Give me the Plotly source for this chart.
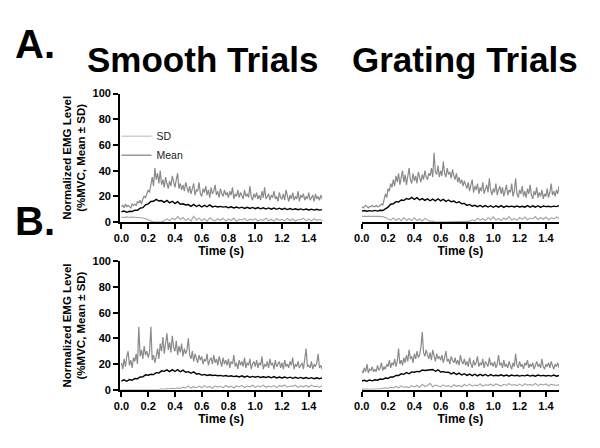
import plotly.graph_objects as go

# ---------------- data ----------------
t_fine = [round(i * 0.01, 2) for i in range(151)]
t_coarse = [round(i * 0.02, 2) for i in range(76)]
x_ticks = [0.0, 0.2, 0.4, 0.6, 0.8, 1.0, 1.2, 1.4]
x_tick_labels = ["0.0", "0.2", "0.4", "0.6", "0.8", "1.0", "1.2", "1.4"]
y_ticks = [0, 20, 40, 60, 80, 100]
y_tick_labels = ["0", "20", "40", "60", "80", "100"]

# A. Smooth trials
smoothA_upper = [
    12, 13, 11, 14, 12, 13, 12, 11, 14, 13,
    14, 13, 16, 15, 17, 14, 18, 20, 19, 22,
    25, 23, 30, 35, 28, 42, 33, 38, 30, 40,
    29, 33, 27, 35, 30, 26, 32, 28, 36, 30,
    27, 33, 38, 26, 30, 25, 29, 24, 31, 27,
    23, 28, 22, 26, 30, 21, 25, 24, 31, 22,
    20, 26, 23, 28, 21, 25, 19, 27, 22, 24,
    29, 21, 24, 19, 26, 22, 20, 25, 21, 23,
    19, 24, 21, 27, 18, 22, 20, 25, 19, 23,
    21, 18, 25, 20, 22, 19, 28, 20, 17, 22,
    19, 23, 18, 21, 17, 24, 19, 27, 18, 20,
    22, 17, 21, 19, 24, 18, 20, 16, 23, 19,
    18, 22, 17, 25, 19, 16, 21, 18, 23, 17,
    20, 18, 24, 16, 21, 19, 22, 17, 20, 18,
    23, 17, 19, 21, 16, 22, 18, 20, 17, 21,
    18]
smoothA_mean = [
    8, 8.6, 7.6, 8.4, 8.2, 9.3, 9.1, 10.8, 11.2, 13.4,
    14.2, 16, 16.2, 17.6, 16.4, 16.7, 15.3, 16.8, 15, 16.2,
    14.4, 15.8, 13.9, 14.2, 13.3, 13.6, 12.2, 13.7, 12.1, 13.2,
    11.7, 13, 11.9, 13.3, 11.8, 12.4, 11.7, 12.2, 11.6, 12,
    11.2, 11.9, 11, 11.7, 10.9, 11.6, 10.6, 11.5, 10.6, 11.4,
    10.4, 11.3, 10.3, 11.1, 10.1, 11, 10, 10.9, 9.9, 10.8,
    9.8, 10.7, 9.7, 10.5, 9.7, 10.3, 9.6, 10.2, 9.5, 10.1,
    9.4, 10, 9.3, 9.9, 9.3, 9.7]
smoothA_lower = [
    3.8, 3.6, 4, 3.5, 3.9, 3.7, 3.4, 3.6, 3.2, 2.5,
    1.5, 0.6, 0, 0, 0.2, 0, 1.2, 2.5, 1, 3,
    1.8, 4.2, 2, 3.5, 1.2, 2.8, 0.8, 4.5, 1.5, 3.2,
    1, 2.8, 0.6, 3.4, 1.8, 0.9, 2.6, 1.4, 3, 0.8,
    2.4, 1.2, 3.1, 0.7, 2.2, 1.6, 2.9, 0.9, 2.3, 1.5,
    2.7, 0.8, 2, 1.3, 3, 1, 2.2, 0.7, 2.6, 1.4,
    2.1, 0.9, 2.8, 1.2, 2.4, 0.8, 2, 1.6, 2.9, 1.1,
    2.3, 0.9, 2.6, 1.3, 2, 1.2]

# A. Grating trials
gratingA_upper = [
    12, 11, 12, 13, 12, 11, 12, 12, 13, 12,
    12, 13, 12, 12, 13, 14, 13, 18, 22, 19,
    26, 24, 30, 27, 33, 28, 36, 31, 38, 29,
    34, 40, 31, 37, 29, 35, 42, 33, 30, 38,
    32, 36, 30, 39, 34, 31, 37, 33, 40, 35,
    33, 38, 36, 42, 35, 54, 39, 37, 44, 35,
    40, 36, 47, 38, 35, 42, 37, 39, 34, 41,
    36, 33, 38, 31, 35, 30, 33, 28, 32, 29,
    26, 31, 24, 29, 33, 23, 28, 25, 30, 22,
    27, 24, 31, 22, 26, 29, 23, 34, 25, 21,
    26, 23, 30, 21, 25, 28, 22, 27, 20, 24,
    29, 21, 25, 23, 30, 20, 24, 34, 22, 19,
    25, 22, 28, 20, 24, 19, 26, 22, 29, 21,
    18, 24, 21, 27, 19, 23, 20, 25, 18, 22,
    20, 26, 19, 23, 30, 21, 24, 20, 25, 22,
    28]
gratingA_mean = [
    8.5, 9, 8.4, 8.9, 8.5, 9.1, 8.5, 9.2, 9, 10.2,
    11.6, 13.9, 14.2, 15.9, 15.6, 17.2, 16.8, 18.3, 17.7, 19.2,
    17.6, 19, 17.2, 18.3, 16.9, 18, 16.6, 17.9, 16.5, 18.1,
    16.5, 17.6, 16.1, 17.2, 15.8, 16.3, 15, 15.8, 14.2, 14.5,
    13, 13.7, 12.4, 13, 12, 12.9, 11.8, 12.8, 11.7, 12.7,
    11.5, 12.6, 11.6, 12.8, 11.4, 12.5, 11.9, 12.4, 11.7, 12.5,
    11.8, 12.3, 11.6, 12.8, 11.5, 12.6, 11.6, 12.7, 11.4, 12.5,
    12, 12.3, 11.8, 12.4, 12, 12.8]
gratingA_lower = [
    4.4, 4.5, 4.4, 4.3, 4.4, 4.5, 4.4, 4.3, 4.2, 3.5,
    2.5, 1.5, 3.2, 1.2, 2.8, 1, 3.5, 1.4, 2.6, 1.1,
    3.3, 1.2, 2.4, 0.8, 2.9, 1.5, 0.5, 0.8, 0, 0,
    0, 0, 0, 0, 0, 0, 0, 0, 0, 0,
    0, 0.5, 1.8, 1, 3, 1.5, 2.6, 1.2, 3.4, 1.8,
    4, 1.5, 2.8, 1.1, 3.2, 2, 4.2, 1.6, 2.9, 1.3,
    3.5, 2.1, 4, 1.8, 3.1, 2.4, 4.3, 1.9, 3.6, 2.2,
    3.9, 1.8, 3.3, 2.5, 4, 2.7]

# B. Smooth trials
smoothB_upper = [
    21, 16, 24, 18, 26, 30, 19, 23, 17, 25,
    22, 28, 20, 49, 26, 31, 24, 34, 27, 30,
    25, 29, 49, 23, 27, 21, 26, 32, 24, 36,
    30, 41, 28, 35, 44, 31, 37, 29, 42, 33,
    30, 38, 27, 34, 29, 36, 26, 32, 28, 31,
    40, 27, 24, 30, 22, 28, 25, 21, 27, 23,
    26, 20, 24, 22, 28, 19, 23, 25, 20, 27,
    21, 24, 19, 26, 22, 18, 25, 20, 23, 19,
    24, 17, 22, 20, 27, 18, 21, 16, 23, 19,
    22, 18, 25, 17, 21, 19, 24, 16, 20, 22,
    18, 23, 17, 21, 19, 26, 16, 20, 18, 22,
    17, 24, 19, 21, 16, 23, 18, 20, 22, 17,
    21, 16, 23, 18, 20, 17, 22, 19, 25, 16,
    20, 18, 22, 17, 19, 21, 16, 24, 32, 18,
    19, 17, 22, 16, 20, 18, 21, 28, 17, 19,
    16]
smoothB_mean = [
    6.8, 7.7, 6.6, 7.9, 7.4, 8.8, 8.6, 9.9, 10.1, 11.6,
    11.3, 12, 11.8, 13.3, 13, 14.7, 14.3, 15.5, 14.1, 15.7,
    14.2, 15.6, 14, 15.3, 13.6, 14.1, 12.8, 13.9, 12.2, 12.5,
    11.4, 11.9, 11.1, 11.7, 11.1, 11.4, 10.9, 11.2, 10.6, 11.1,
    10.4, 10.9, 10.2, 10.7, 10, 10.8, 9.8, 10.6, 9.7, 10.4,
    9.7, 10.4, 9.6, 10.1, 9.5, 10.3, 9.3, 10.2, 9.2, 9.9,
    9.2, 9.9, 9.1, 9.8, 8.9, 9.7, 8.9, 9.6, 8.8, 9.5,
    8.7, 9.4, 8.6, 9.3, 8.6, 9.2]
smoothB_lower = [
    0, 0, 0, 0, 0, 0, 0, 0, 0, 0,
    0, 0.3, 0, 0.5, 0.2, 0.8, 0.4, 1, 0.6, 1.2,
    0.8, 1.5, 1, 2, 1.4, 3, 1.2, 2.4, 1.6, 2.8,
    1.5, 3.2, 1.8, 2.6, 1.2, 3, 2, 2.7, 1.6, 3.3,
    1.9, 2.8, 1.4, 3.1, 2.2, 3.4, 1.7, 2.9, 2.3, 3.5,
    1.8, 3, 2.4, 3.6, 1.9, 2.8, 2.2, 3.2, 1.7, 3.4,
    2.5, 3.7, 2, 2.9, 2.6, 3.5, 1.8, 3, 2.3, 3.3,
    2.1, 3.6, 2.4, 2.9, 2, 3.1]

# B. Grating trials
gratingB_upper = [
    15, 13, 17, 14, 20, 13, 16, 15, 18, 14,
    16, 14, 19, 15, 17, 21, 15, 18, 16, 20,
    18, 23, 17, 21, 19, 24, 18, 22, 32, 20,
    23, 19, 25, 21, 27, 22, 31, 24, 26, 21,
    28, 24, 30, 25, 27, 33, 45, 29, 26, 31,
    27, 24, 29, 23, 31, 25, 22, 28, 24, 26,
    23, 27, 21, 25, 30, 22, 24, 20, 26, 23,
    21, 25, 20, 23, 19, 27, 22, 20, 24, 19,
    22, 18, 25, 20, 17, 23, 19, 21, 26, 18,
    21, 19, 24, 17, 22, 20, 18, 25, 19, 21,
    18, 22, 17, 20, 27, 19, 21, 17, 23, 18,
    20, 17, 22, 19, 16, 21, 18, 28, 19, 17,
    22, 18, 20, 16, 21, 19, 23, 17, 20, 18,
    21, 16, 19, 22, 18, 20, 17, 24, 18, 16,
    20, 18, 21, 17, 22, 19, 16, 20, 18, 21,
    17]
gratingB_mean = [
    6.8, 7.4, 6.7, 7.6, 6.9, 7.7, 7.4, 8.3, 8.1, 9.1,
    8.8, 10, 9.9, 11.2, 11.1, 12.4, 12, 13.4, 12.4, 13.9,
    13.6, 14.3, 14, 15.4, 15, 15.2, 15.2, 15.8, 14.4, 15.5,
    13.8, 14.1, 13.5, 13.6, 12.3, 13.3, 11.9, 12.9, 11.5, 12.5,
    11.2, 12.2, 11, 12.1, 10.8, 12, 10.9, 11.9, 10.7, 11.8,
    10.8, 11.3, 10.9, 11.6, 10.7, 11.4, 10.6, 11.5, 10.8, 11.3,
    10.6, 11.2, 10.8, 11.4, 10.6, 11.3, 10.5, 11.4, 10.8, 11.2,
    10.7, 11.2, 10.6, 11.4, 10.5, 11.1]
gratingB_lower = [
    0.5, 0.4, 0.6, 0.5, 0.4, 0.6, 0.5, 0.8, 1.2, 1.5,
    1, 2, 1.4, 2.6, 1.5, 3, 1.8, 2.4, 1.6, 3.2,
    2, 3.5, 1.8, 4.2, 2.5, 3.3, 5, 2.2, 3.6, 2.8,
    2.4, 3.8, 2.6, 3.3, 2, 3.9, 2.7, 3.4, 2.3, 4.1,
    3, 4.4, 2.8, 3.7, 3.2, 4.6, 2.9, 3.9, 3.4, 4.3,
    3.1, 4.5, 3.6, 2.9, 4.2, 3.3, 4.8, 3.5, 4, 3.2,
    4.4, 3, 4.7, 3.6, 4.1, 3.4, 4.9, 3.2, 4.3, 3.7,
    4.5, 3.1, 4.2, 3.8, 3.3, 4]

panels = [
    (smoothA_upper, smoothA_mean, smoothA_lower),
    (gratingA_upper, gratingA_mean, gratingA_lower),
    (smoothB_upper, smoothB_mean, smoothB_lower),
    (gratingB_upper, gratingB_mean, gratingB_lower),
]

# ---------------- style ----------------
FONT = "Arial, 'Liberation Sans', sans-serif"
W, H = 600, 448
UPPER_COLOR = "#8a8a8a"
LOWER_COLOR = "#a3a3a3"
MEAN_COLOR = "#000000"

def px_x(p):
    return p / W

def px_y(p):
    return 1 - p / H

# panel domains (pixels -> paper)
x_dom_left = [px_x(113.6), px_x(318.4)]
x_dom_right = [px_x(358.5), px_x(558.5)]
y_dom_top = [px_y(222.0), px_y(90.0)]
y_dom_bot = [px_y(394.3), px_y(262.3)]
domains = [
    (x_dom_left, y_dom_top, True),
    (x_dom_right, y_dom_top, False),
    (x_dom_left, y_dom_bot, True),
    (x_dom_right, y_dom_bot, False),
]

fig = go.Figure()

for i, (up, mn, lo) in enumerate(panels):
    sfx = "" if i == 0 else str(i + 1)
    xa, ya = "x" + sfx, "y" + sfx
    fig.add_trace(go.Scatter(x=t_fine, y=up, mode="lines", xaxis=xa, yaxis=ya,
                             line=dict(color=UPPER_COLOR, width=1.2), showlegend=False,
                             hoverinfo="skip"))
    fig.add_trace(go.Scatter(x=t_coarse, y=lo, mode="lines", xaxis=xa, yaxis=ya,
                             line=dict(color=LOWER_COLOR, width=1.1), showlegend=False,
                             hoverinfo="skip"))
    fig.add_trace(go.Scatter(x=t_coarse, y=mn, mode="lines", xaxis=xa, yaxis=ya,
                             line=dict(color=MEAN_COLOR, width=1.4), showlegend=False,
                             hoverinfo="skip"))

# legend entries (as in the original figure)
fig.add_trace(go.Scatter(x=[None], y=[None], mode="lines", name="SD",
                         line=dict(color="#cfcfcf", width=1.5)))
fig.add_trace(go.Scatter(x=[None], y=[None], mode="lines", name="Mean",
                         line=dict(color="#9a9a9a", width=1.5)))

layout = dict(
    width=W, height=H,
    margin=dict(l=0, r=0, t=0, b=0),
    paper_bgcolor="white", plot_bgcolor="white",
    font=dict(family=FONT, color="black"),
    showlegend=True,
    legend=dict(x=px_x(110), y=px_y(119), xanchor="left", yanchor="top",
                bgcolor="rgba(0,0,0,0)", font=dict(size=10.5, color="#222222"),
                tracegroupgap=0, itemwidth=30),
)

for i, (xd, yd, left) in enumerate(domains):
    sfx = "" if i == 0 else str(i + 1)
    layout["xaxis" + sfx] = dict(
        domain=xd, anchor="y" + sfx, range=[-0.01 if left else 0.0, 1.5],
        tickmode="array", tickvals=x_ticks, ticktext=x_tick_labels,
        ticks="outside", ticklen=5, tickwidth=2, tickcolor="black",
        showline=True, linecolor="black", linewidth=2, showgrid=False, zeroline=False,
        tickfont=dict(size=11, family=FONT, weight="bold"),
        title=dict(text="<b>Time (s)</b>", font=dict(size=12, family=FONT), standoff=3),
    )
    ya = dict(
        domain=yd, anchor="x" + sfx, range=[0, 100],
        showgrid=False, zeroline=False,
    )
    if left:
        ya.update(
            tickmode="array", tickvals=y_ticks, ticktext=y_tick_labels,
            ticks="outside", ticklen=5, tickwidth=2, tickcolor="black",
            showline=True, linecolor="black", linewidth=2,
            tickfont=dict(size=11, family=FONT, weight="bold"),
            title=dict(text="<b>Normalized EMG Level<br>(%MVC, Mean \u00b1 SD)</b>",
                       font=dict(size=11.5, family=FONT), standoff=4),
        )
    else:
        ya.update(visible=False)
    layout["yaxis" + sfx] = ya

fig.update_layout(**layout)

annotations = [
    dict(text="<b>A.</b>", x=px_x(5), y=px_y(39), xanchor="left", yanchor="middle",
         font=dict(size=40, family=FONT)),
    dict(text="<b>B.</b>", x=px_x(5), y=px_y(221), xanchor="left", yanchor="middle",
         font=dict(size=40, family=FONT)),
    dict(text="<b>Smooth Trials</b>", x=px_x(197), y=px_y(55), xanchor="center",
         yanchor="middle", font=dict(size=35, family=FONT)),
    dict(text="<b>Grating Trials</b>", x=px_x(463), y=px_y(55), xanchor="center",
         yanchor="middle", font=dict(size=35, family=FONT)),
]
for a in annotations:
    a.update(xref="paper", yref="paper", showarrow=False)
fig.update_layout(annotations=annotations)

fig.write_html("out.html", config={"displayModeBar": False},
               post_script="document.body.style.margin='0px';")
